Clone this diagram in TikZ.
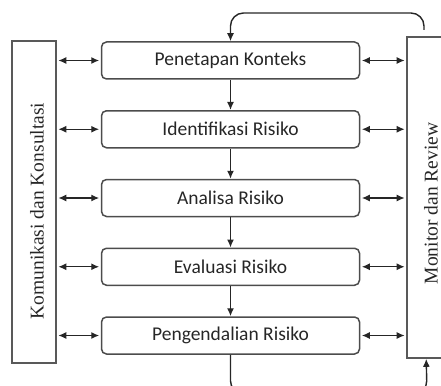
\documentclass[tikz,border=0pt]{standalone}
\usepackage{fontspec}
\setmainfont{Liberation Serif}
\newfontfamily\calib{Carlito}
\usetikzlibrary{arrows.meta}
\begin{document}
\begin{tikzpicture}[x=1pt,y=-1pt,
  stepbox/.style={draw=black!70, line width=1.5pt, rounded corners=5pt, minimum width=258pt, minimum height=37pt, inner sep=0pt, text=black!85, font=\calib\fontsize{19.5}{22}\selectfont},
  sidebox/.style={draw=black!65, line width=1.6pt, inner sep=0pt},
  conn/.style={line width=1.4pt, draw=black!85, -{Latex[length=8pt,width=7pt]}},
  both/.style={line width=1.4pt, draw=black!85, {Latex[length=8pt,width=7pt]}-{Latex[length=8pt,width=7pt]}, shorten <=1.5pt, shorten >=1.5pt},
  sidetext/.style={rotate=90, inner sep=0pt, text=black!85, font=\fontsize{19.5}{22}\selectfont}
]
\useasboundingbox (0,0) rectangle (441,385);
\begin{scope}
\clip (0,0) rectangle (441,385);
% side boxes
\node[sidebox, minimum width=44pt, minimum height=322pt] (kom) at (34,202) {};
\node[sidebox, minimum width=48pt, minimum height=321pt] (mon) at (431,197.5) {};
\node[sidetext] (komt) at (37,211) {Komunikasi dan Konsultasi};
\node[sidetext] (mont) at (431,203.5) {Monitor dan Review};
% steps
\node[stepbox] (b1) at (230.5,60.5) {Penetapan Konteks};
\node[stepbox] (b2) at (230.5,129.25) {Identifikasi Risiko};
\node[stepbox] (b3) at (230.5,198) {Analisa Risiko};
\node[stepbox] (b4) at (230.5,266.75) {Evaluasi Risiko};
\node[stepbox] (b5) at (230.5,335.5) {Pengendalian Risiko};
% vertical flow
\draw[conn] (b1) -- (b2);
\draw[conn] (b2) -- (b3);
\draw[conn] (b3) -- (b4);
\draw[conn] (b4) -- (b5);
% side arrows
\foreach \b in {b1,b2,b3,b4,b5}{
  \draw[both] (kom.east |- \b.west) -- (\b.west);
  \draw[both] (\b.east) -- (mon.west |- \b.east);
}
% feedback loops
\coordinate (tstart) at (424,30);
\draw[conn, rounded corners=13pt] (tstart) -- (424,13) -- (230.5,13) -- (b1.north);
\coordinate (mb) at ([xshift=20pt]mon.south west);
\draw[conn, rounded corners=12pt] (b5.south) -- (230.5,393) -- (427,393) -- (mb);
\end{scope}
\end{tikzpicture}
\end{document}
